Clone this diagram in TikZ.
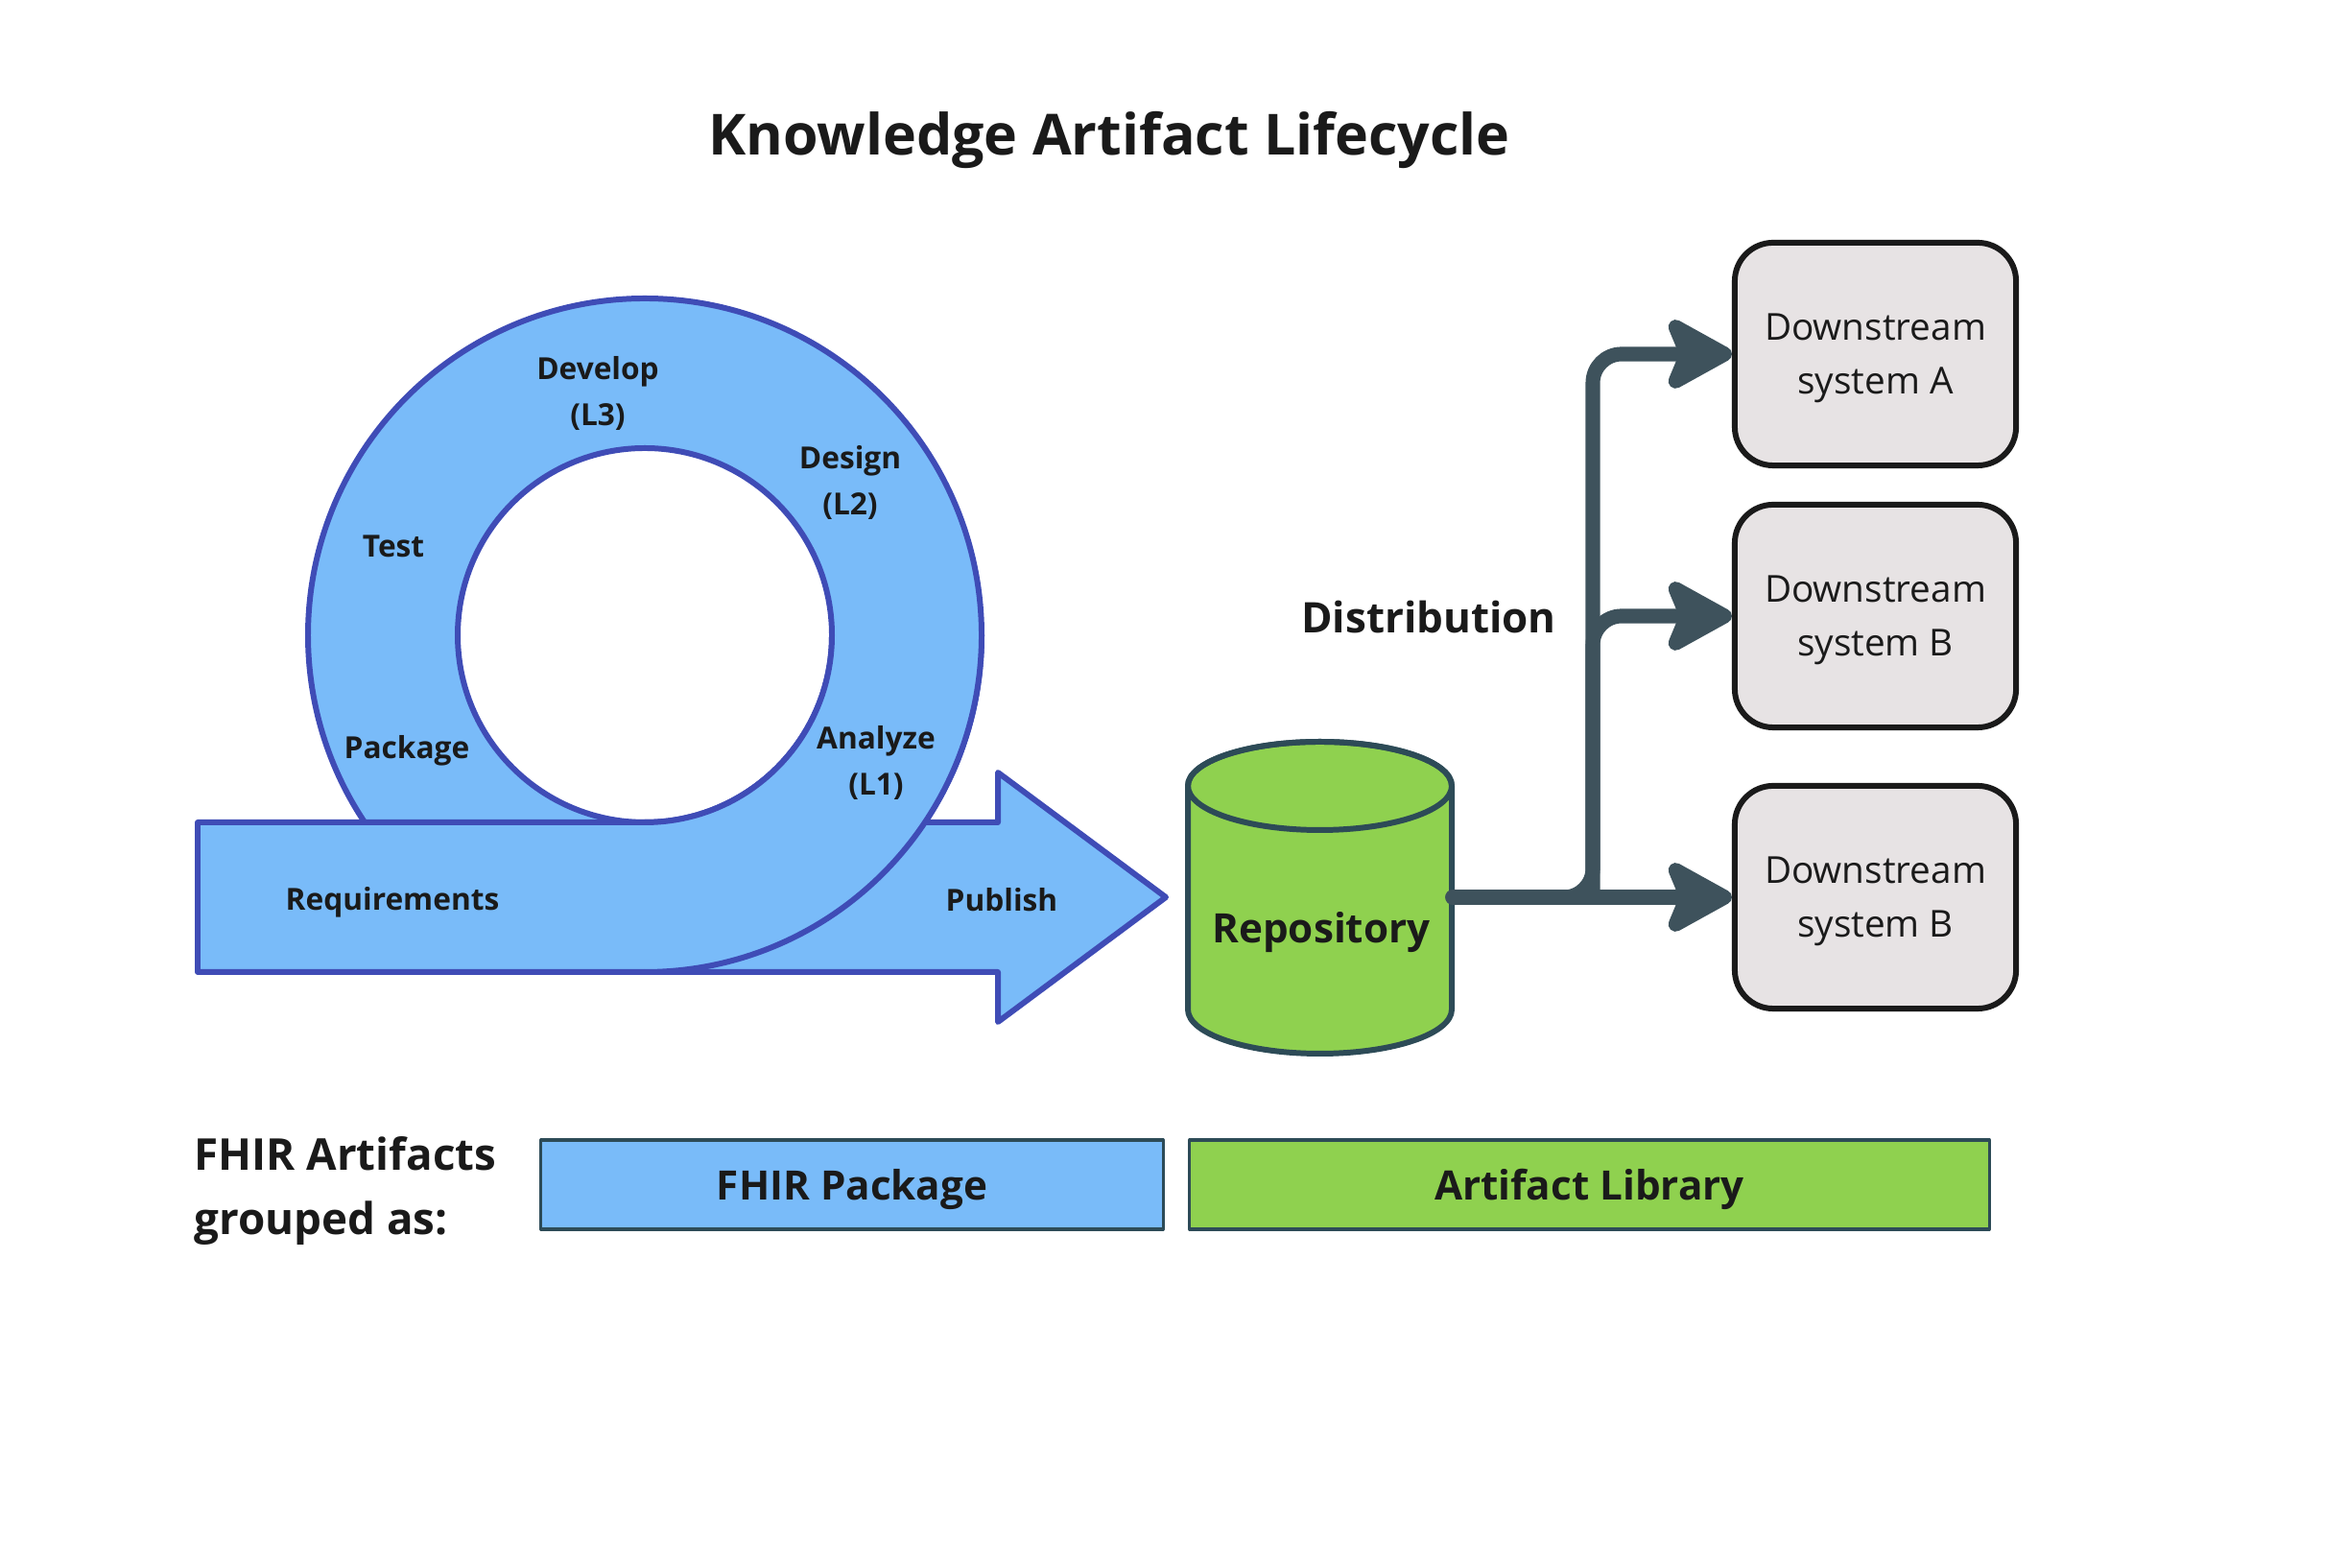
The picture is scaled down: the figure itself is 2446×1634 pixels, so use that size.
\documentclass[tikz,border=0pt]{standalone}
\usepackage{fontspec}
\setmainfont{Open Sans}
\usetikzlibrary{arrows.meta}
\definecolor{ringblue}{HTML}{79BBF9}
\definecolor{ringedge}{HTML}{3F4CB6}
\definecolor{repogreen}{HTML}{8FD14F}
\definecolor{cyledge}{HTML}{2D4B57}
\definecolor{flowgrey}{HTML}{3E525C}
\definecolor{sysfill}{HTML}{E7E3E4}
\definecolor{inkblack}{HTML}{1A1A1A}
\begin{document}
\begin{tikzpicture}[line cap=round,line join=round,x=0.01cm,y=0.01cm,
    ringline/.style={draw=ringedge,line width=1.7pt},
    stagelbl/.style={text=inkblack,align=center,font=\fontsize{9}{13.4}\selectfont\bfseries},
    sysbox/.style={draw=inkblack,fill=sysfill,line width=1.7pt,rounded corners=0.4cm,
      minimum width=2.93cm,minimum height=2.32cm,align=center,text=inkblack,text depth=0pt,
      font=\fontsize{11}{16}\selectfont},
    grpbox/.style={draw=cyledge,line width=0.9pt,minimum height=0.93cm,text=inkblack,text depth=0pt,
      font=\fontsize{12}{16}\selectfont\bfseries},
    flow/.style={draw=flowgrey,line width=4.3pt,rounded corners=0.3cm,
      -{Stealth[length=23pt,width=25pt,inset=5pt,round]}}]
    \useasboundingbox (0,0) rectangle (2446,1634);
    % title
    \node[text=inkblack,font=\fontsize{16.8}{20}\selectfont\bfseries] (title) at (1156,1488) {Knowledge Artifact Lifecycle};
    % lifecycle ring and arrow
    \coordinate (ringc) at (672,972);
    \draw[ringline,fill=ringblue,even odd rule] (ringc) circle (351) (ringc) circle (195);
    \draw[ringline,fill=ringblue] (206,777) -- (1040,777) -- (1040,829) -- (1215,699)
      -- (1040,569) -- (1040,621) -- (206,621) -- cycle;
    \fill[ringblue] (672,621) arc[start angle=-90,end angle=0,radius=351] -- (867,972)
      arc[start angle=0,end angle=-90,radius=195] -- cycle;
    \draw[ringline] (672,621) arc[start angle=-90,end angle=0,radius=351];
    \draw[ringline] (672,777) arc[start angle=-90,end angle=0,radius=195];
    \node[stagelbl] (develop) at (623,1224) {Develop\\(L3)};
    \node[stagelbl] (design) at (886,1131) {Design\\(L2)};
    \node[stagelbl] (test) at (410,1065) {Test};
    \node[stagelbl] (package) at (424,852) {Package};
    \node[stagelbl] (analyze) at (913,839) {Analyze\\(L1)};
    \node[stagelbl] (reqs) at (409,694) {Requirements};
    \node[stagelbl] (publish) at (1044,696) {Publish};
    % repository
    \draw[draw=cyledge,line width=1.7pt,fill=repogreen] (1238,815) -- (1238,582)
      arc[start angle=180,end angle=360,x radius=137.5,y radius=46] -- (1513,815)
      arc[start angle=0,end angle=180,x radius=137.5,y radius=46] -- cycle;
    \draw[draw=cyledge,line width=1.7pt] (1375.5,815) ellipse[x radius=137.5,y radius=46];
    \node[minimum width=2.75cm,minimum height=2.33cm,inner sep=0pt] (repo) at (1375.5,699) {};
    \node[text=inkblack,font=\fontsize{12}{16}\selectfont\bfseries] (repolbl) at (1377,662) {Repository};
    % downstream systems
    \node[sysbox] (sysA) at (1954.5,1265) {Downstream\\system A};
    \node[sysbox] (sysB) at (1954.5,992) {Downstream\\system B};
    \node[sysbox] (sysC) at (1954.5,699) {Downstream\\system B};
    \node[text=inkblack,font=\fontsize{12.5}{16}\selectfont\bfseries] (distlbl) at (1489,991) {Distribution};
    \coordinate (jn) at (1660,699);
    \draw[flow] (repo.east) -- (sysC.west);
    \draw[flow] (repo.east) -- (jn) |- (sysA.west);
    \draw[flow] (jn) |- (sysB.west);
    % grouping
    \node[anchor=west,align=left,text=inkblack,font=\fontsize{13}{19}\selectfont\bfseries] (grplbl) at (190,393) {FHIR Artifacts\\grouped as:};
    \node[grpbox,fill=ringblue,minimum width=6.48cm] (pkg) at (888,399.5) {FHIR Package};
    \node[grpbox,fill=repogreen,minimum width=8.33cm] (lib) at (1656.5,399.5) {Artifact Library};
\end{tikzpicture}
\end{document}
